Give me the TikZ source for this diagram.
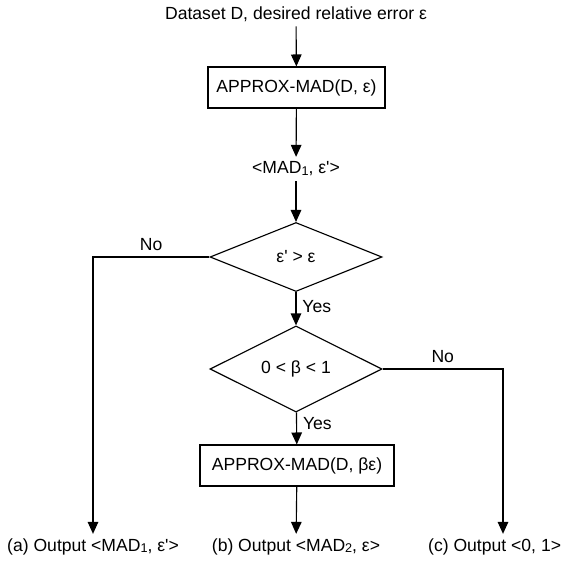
\documentclass[tikz,border=0pt]{standalone}
\usepackage{fontspec}
\setmainfont{Liberation Sans}
\usetikzlibrary{shapes.geometric,arrows.meta}

\newcommand{\lowidx}[1]{\raisebox{-0.15ex}{\fontsize{7.2}{8}\selectfont #1}}
\newcommand{\prm}{\textquotesingle}

\begin{document}
\begin{tikzpicture}[
    font=\fontsize{10}{12}\selectfont,
    line width=0.65pt,
    >={Triangle[length=6.8pt,width=6pt]},
    proc/.style={draw, rectangle, minimum height=0.82cm, inner sep=0pt},
    cond/.style={draw, diamond, minimum width=3.44cm, minimum height=1.38cm, inner sep=0pt},
    txt/.style={inner sep=2.5pt}
  ]
    \useasboundingbox (0,0) rectangle (11.32,-11.26);
    % 主干结点
    \node[txt] (input) at (5.92,-0.28) {Dataset D, desired relative error ε};
    \node[proc, minimum width=3.54cm] (approx1) at (5.93,-1.75) {APPROX-MAD(D, ε)};
    \node[txt] (mad1) at (5.92,-3.38) {<MAD\lowidx{1}, ε\prm>};
    \node[cond] (cond1) at (5.92,-5.14) {ε\prm{} > ε};
    \node[cond] (cond2) at (5.92,-7.38) {0 < β < 1};
    \node[proc, minimum width=3.88cm] (approx2) at (5.94,-9.31) {APPROX-MAD(D, βε)};
    % 三个输出
    \node[txt] (outa) at (1.86,-10.94) {(a) Output <MAD\lowidx{1}, ε\prm>};
    \node[txt] (outb) at (5.92,-10.94) {(b) Output <MAD\lowidx{2}, ε>};
    \node[txt, anchor=east] (outc) at (11.32,-10.94) {(c) Output <0, 1>};
    % 拐点
    \coordinate (lcorner) at (outa.north |- cond1);
    \coordinate (rcorner) at (10.06,-7.38);
    % 连线
    \draw[->] (input) -- (approx1);
    \draw[->] (approx1) -- (mad1);
    \draw[->] (mad1) -- (cond1);
    \draw[->] (cond1) -- node[right, pos=0.42] (yes1) {Yes} (cond2);
    \draw[->] (cond2) -- node[right, pos=0.36] (yes2) {Yes} (approx2);
    \draw[->] (approx2) -- (outb);
    \draw[->] (cond1.west) -- node[above] (no1) {No} (lcorner) -- (outa);
    \draw[->] (cond2.east) -- node[above] (no2) {No} (rcorner) -- (rcorner |- outc.north);
\end{tikzpicture}
\end{document}
